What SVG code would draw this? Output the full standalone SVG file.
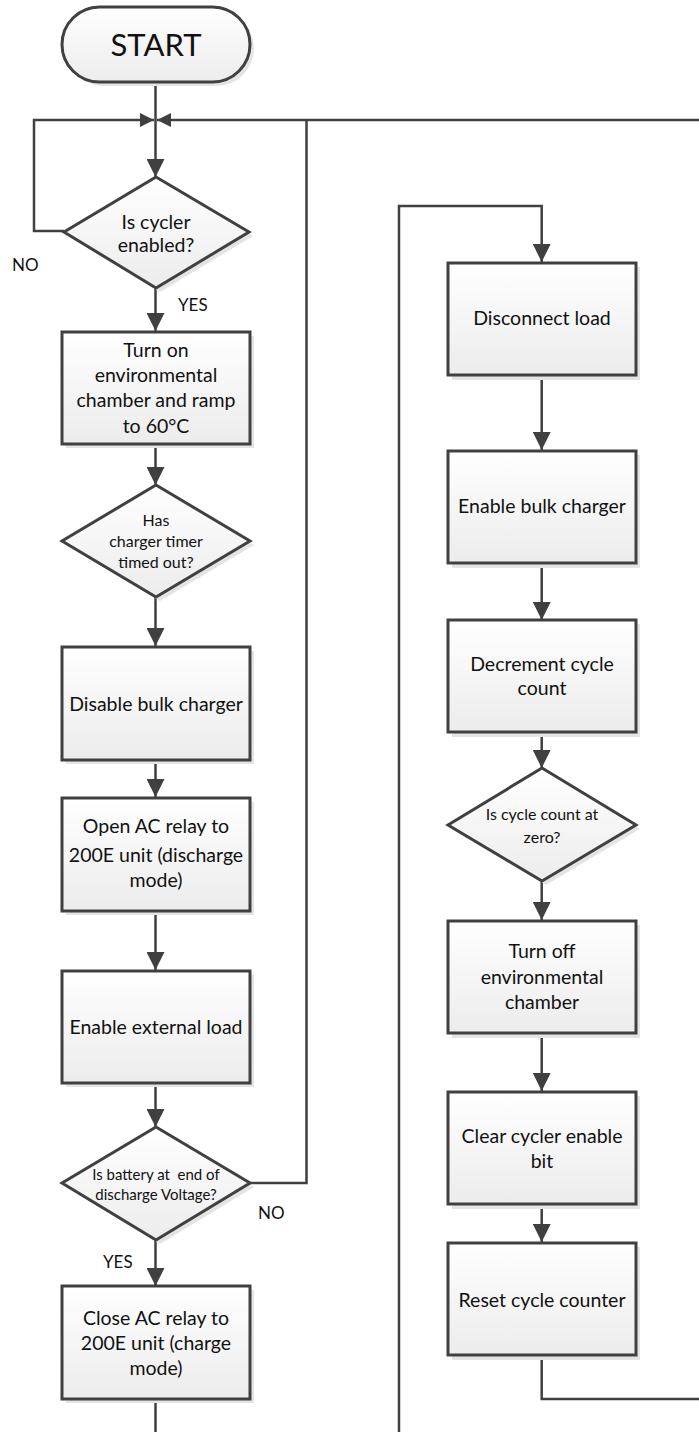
<svg xmlns="http://www.w3.org/2000/svg" width="699" height="1432" viewBox="0 0 699 1432">
  <defs>
    <linearGradient id="fillGrad" x1="0" y1="0" x2="0" y2="1">
      <stop offset="0" stop-color="#ffffff"/>
      <stop offset="1" stop-color="#ececec"/>
    </linearGradient>
    <marker id="arrow" markerUnits="userSpaceOnUse" markerWidth="18" markerHeight="18" refX="18" refY="9" orient="auto">
      <path d="M0,0 L18,9 L0,18 Z" fill="#404040"/>
    </marker>
    <marker id="arrowSmall" markerUnits="userSpaceOnUse" markerWidth="14" markerHeight="14" refX="14" refY="7" orient="auto">
      <path d="M0,0 L14,7 L0,14 Z" fill="#404040"/>
    </marker>
    <style>
      .shape { fill: url(#fillGrad); stroke: #404040; stroke-width: 3; }
      .shadow { fill: #e4e4e4; stroke: none; }
      .wire { fill: none; stroke: #404040; stroke-width: 2.5; }
      .lbl { font-family: Lato, "Open Sans", sans-serif; font-size: 19.5px; fill: #111; text-anchor: middle; }
      .sm { font-size: 16px; }
      .xs { font-size: 15px; }
      .tag { font-family: Lato, "Open Sans", sans-serif; font-size: 17px; fill: #111; }
    </style>
  </defs>

  <!-- connectors -->
  <g id="connectors">
    <path class="wire" d="M155.5,82 V177" marker-end="url(#arrow)"/>
    <path class="wire" d="M64,231 H34 V120 H154" marker-end="url(#arrowSmall)"/>
    <path class="wire" d="M699,120 H157" marker-end="url(#arrowSmall)"/>
    <path class="wire" d="M250,1183 H306.5 V120"/>
    <path class="wire" d="M155.5,288 V331" marker-end="url(#arrow)"/>
    <path class="wire" d="M155.5,444 V485" marker-end="url(#arrow)"/>
    <path class="wire" d="M155.5,597 V646" marker-end="url(#arrow)"/>
    <path class="wire" d="M155.5,760 V797" marker-end="url(#arrow)"/>
    <path class="wire" d="M155.5,910 V970" marker-end="url(#arrow)"/>
    <path class="wire" d="M155.5,1083 V1127" marker-end="url(#arrow)"/>
    <path class="wire" d="M155.5,1240 V1286" marker-end="url(#arrow)"/>
    <path class="wire" d="M155.5,1399 V1432"/>
    <path class="wire" d="M399,1432 V206 H541.7 V262" marker-end="url(#arrow)"/>
    <path class="wire" d="M541.7,375 V450" marker-end="url(#arrow)"/>
    <path class="wire" d="M541.7,563 V620" marker-end="url(#arrow)"/>
    <path class="wire" d="M541.7,732 V768" marker-end="url(#arrow)"/>
    <path class="wire" d="M541.7,881 V920" marker-end="url(#arrow)"/>
    <path class="wire" d="M541.7,1033 V1091" marker-end="url(#arrow)"/>
    <path class="wire" d="M541.7,1204 V1242" marker-end="url(#arrow)"/>
    <path class="wire" d="M541.7,1355 V1399 H699"/>
  </g>

  <!-- branch labels -->
  <g id="labels">
    <text class="tag" x="12" y="271">NO</text>
    <text class="tag" x="178" y="311">YES</text>
    <text class="tag" x="258" y="1219">NO</text>
    <text class="tag" x="103" y="1268">YES</text>
  </g>

  <g id="start">
    <rect class="shadow" x="66" y="11" width="188" height="75" rx="37.5"/>
    <rect class="shape" x="62" y="7" width="188" height="75" rx="37.5"/>
    <text class="lbl" x="156" y="56" style="font-size:31px">START</text>
  </g>

  <g id="cycler-enabled">
    <polygon class="shadow" points="160,181 253,236 160,292 68,236"/>
    <polygon class="shape" points="156,177 249,232 156,288 64,232"/>
    <text class="lbl" x="156" y="229">Is cycler</text>
    <text class="lbl" x="156" y="252">enabled?</text>
  </g>

  <g id="chamber-on">
    <rect class="shadow" x="66" y="336" width="188" height="112"/>
    <rect class="shape" x="62" y="332" width="188" height="112"/>
    <text class="lbl" x="156" y="357">Turn on</text>
    <text class="lbl" x="156" y="382">environmental</text>
    <text class="lbl" x="156" y="407">chamber and ramp</text>
    <text class="lbl" x="156" y="433">to 60°C</text>
  </g>

  <g id="timer-timed-out">
    <polygon class="shadow" points="160,489 254,545 160,601 66,545"/>
    <polygon class="shape" points="156,485 250,541 156,597 62,541"/>
    <text class="lbl sm" x="156" y="526">Has</text>
    <text class="lbl sm" x="156" y="547">charger timer</text>
    <text class="lbl sm" x="156" y="568">timed out?</text>
  </g>

  <g id="disable-bulk">
    <rect class="shadow" x="66" y="651" width="188" height="113"/>
    <rect class="shape" x="62" y="647" width="188" height="113"/>
    <text class="lbl" x="156" y="711">Disable bulk charger</text>
  </g>

  <g id="open-relay">
    <rect class="shadow" x="66" y="802" width="188" height="113"/>
    <rect class="shape" x="62" y="798" width="188" height="113"/>
    <text class="lbl" x="156" y="833">Open AC relay to</text>
    <text class="lbl" x="156" y="862">200E unit (discharge</text>
    <text class="lbl" x="156" y="887">mode)</text>
  </g>

  <g id="enable-load">
    <rect class="shadow" x="66" y="975" width="188" height="112"/>
    <rect class="shape" x="62" y="971" width="188" height="112"/>
    <text class="lbl" x="156" y="1034">Enable external load</text>
  </g>

  <g id="end-of-discharge">
    <polygon class="shadow" points="160,1131 254,1187 160,1244 66,1187"/>
    <polygon class="shape" points="156,1127 250,1183 156,1240 62,1183"/>
    <text class="lbl xs" x="156" y="1180" xml:space="preserve">Is battery at  end of</text>
    <text class="lbl xs" x="156" y="1200">discharge Voltage?</text>
  </g>

  <g id="close-relay">
    <rect class="shadow" x="66" y="1290" width="188" height="113"/>
    <rect class="shape" x="62" y="1286" width="188" height="113"/>
    <text class="lbl" x="156" y="1325">Close AC relay to</text>
    <text class="lbl" x="156" y="1350">200E unit (charge</text>
    <text class="lbl" x="156" y="1375">mode)</text>
  </g>

  <g id="disconnect-load">
    <rect class="shadow" x="452" y="267" width="188" height="113"/>
    <rect class="shape" x="448" y="263" width="188" height="112"/>
    <text class="lbl" x="542" y="325">Disconnect load</text>
  </g>

  <g id="enable-bulk">
    <rect class="shadow" x="452" y="455" width="188" height="113"/>
    <rect class="shape" x="448" y="451" width="188" height="112"/>
    <text class="lbl" x="542" y="513">Enable bulk charger</text>
  </g>

  <g id="decrement-count">
    <rect class="shadow" x="452" y="624" width="188" height="113"/>
    <rect class="shape" x="448" y="620" width="188" height="112"/>
    <text class="lbl" x="542" y="671">Decrement cycle</text>
    <text class="lbl" x="542" y="695">count</text>
  </g>

  <g id="count-zero">
    <polygon class="shadow" points="546,772 640,829 546,885 452,829"/>
    <polygon class="shape" points="542,768 636,825 542,881 448,825"/>
    <text class="lbl sm" x="542" y="820">Is cycle count at</text>
    <text class="lbl sm" x="542" y="843">zero?</text>
  </g>

  <g id="chamber-off">
    <rect class="shadow" x="452" y="925" width="188" height="113"/>
    <rect class="shape" x="448" y="921" width="188" height="112"/>
    <text class="lbl" x="542" y="958">Turn off</text>
    <text class="lbl" x="542" y="984">environmental</text>
    <text class="lbl" x="542" y="1009">chamber</text>
  </g>

  <g id="clear-enable">
    <rect class="shadow" x="452" y="1096" width="188" height="113"/>
    <rect class="shape" x="448" y="1092" width="188" height="112"/>
    <text class="lbl" x="542" y="1143">Clear cycler enable</text>
    <text class="lbl" x="542" y="1168">bit</text>
  </g>

  <g id="reset-counter">
    <rect class="shadow" x="452" y="1247" width="188" height="113"/>
    <rect class="shape" x="448" y="1243" width="188" height="112"/>
    <text class="lbl" x="542" y="1307">Reset cycle counter</text>
  </g>
</svg>
